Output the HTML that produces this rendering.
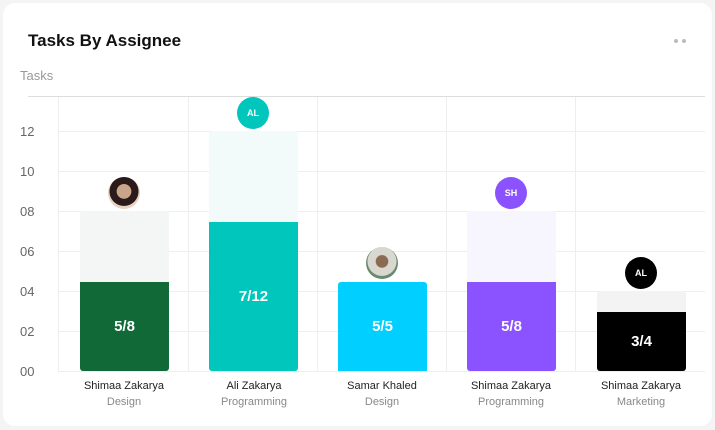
<!DOCTYPE html><html><head><style>
body{margin:0;width:715px;height:430px;background:#f4f4f4;font-family:"Liberation Sans",sans-serif;position:relative;overflow:hidden}
.card{position:absolute;left:3px;top:3px;width:709px;height:423px;background:#fff;border-radius:12px}
.t{position:absolute;white-space:nowrap}
.yl{position:absolute;left:20px;width:24px;font-size:13px;color:#666;text-align:left}
.bar{position:absolute;border-radius:3px 3px 0 0}
.dk{position:absolute;border-radius:0 0 3px 3px;color:#fff;font-weight:bold;font-size:15px;display:flex;align-items:center;justify-content:center}
.av{position:absolute;width:32px;height:32px;border-radius:50%;color:#fff;font-size:9px;font-weight:bold;display:flex;align-items:center;justify-content:center}
.nm{position:absolute;width:130px;text-align:center;font-size:11px;color:#222}
.dp{position:absolute;width:130px;text-align:center;font-size:11px;color:#888}
</style></head><body><div class="card"></div>
<div class="t" style="left:28px;top:31px;font-size:17px;font-weight:bold;color:#111">Tasks By Assignee</div>
<div class="t" style="left:20px;top:68px;font-size:13px;color:#999">Tasks</div>
<div style="position:absolute;left:674px;top:39px;width:4px;height:4px;border-radius:50%;background:#bbb"></div>
<div style="position:absolute;left:682px;top:39px;width:4px;height:4px;border-radius:50%;background:#bbb"></div>
<svg style="position:absolute;left:0;top:0" width="715" height="430">
<line x1="28" y1="96.5" x2="705" y2="96.5" stroke="#ddd"/>
<g stroke="#eee">
<line x1="58.5" y1="97" x2="58.5" y2="371"/><line x1="188.5" y1="97" x2="188.5" y2="371"/><line x1="317.5" y1="97" x2="317.5" y2="371"/><line x1="446.5" y1="97" x2="446.5" y2="371"/><line x1="575.5" y1="97" x2="575.5" y2="371"/>
<line x1="58" y1="131.5" x2="705" y2="131.5"/><line x1="58" y1="171.5" x2="705" y2="171.5"/><line x1="58" y1="211.5" x2="705" y2="211.5"/><line x1="58" y1="251.5" x2="705" y2="251.5"/><line x1="58" y1="291.5" x2="705" y2="291.5"/><line x1="58" y1="331.5" x2="705" y2="331.5"/><line x1="58" y1="371.5" x2="705" y2="371.5"/>
</g></svg>
<div class="yl" style="top:124px">12</div><div class="yl" style="top:164px">10</div><div class="yl" style="top:204px">08</div><div class="yl" style="top:244px">06</div><div class="yl" style="top:284px">04</div><div class="yl" style="top:324px">02</div><div class="yl" style="top:364px">00</div>

<div class="bar" style="left:80px;top:211px;width:89px;height:71px;background:#f3f6f5"></div>
<div class="dk" style="left:80px;top:282px;width:89px;height:89px;background:#116937">5/8</div>
<div class="bar" style="left:209px;top:131px;width:89px;height:91px;background:#f2fbfa"></div>
<div class="dk" style="left:209px;top:222px;width:89px;height:149px;background:#00c6bb">7/12</div>
<div class="dk" style="left:338px;top:282px;width:89px;height:89px;background:#00cfff;border-radius:3px 3px 0 0">5/5</div>
<div class="bar" style="left:467px;top:211px;width:89px;height:71px;background:#f7f6fe"></div>
<div class="dk" style="left:467px;top:282px;width:89px;height:89px;background:#8b53ff">5/8</div>
<div class="bar" style="left:597px;top:291px;width:89px;height:21px;background:#f3f3f3"></div>
<div class="dk" style="left:597px;top:312px;width:89px;height:59px;background:#000">3/4</div>

<div class="av" style="left:108px;top:177px;background:radial-gradient(circle at 50% 45%,#c9a58c 0 30%,#2a1a1a 32% 60%,#e8d4c4 62%)"></div>
<div class="av" style="left:237px;top:97px;background:#00c6bb">AL</div>
<div class="av" style="left:366px;top:247px;background:radial-gradient(circle at 50% 45%,#8a6a50 0 25%,#d8d8d0 28% 60%,#6a8a70 62%)"></div>
<div class="av" style="left:495px;top:177px;background:#8b53ff">SH</div>
<div class="av" style="left:625px;top:257px;background:#000">AL</div>

<div class="nm" style="left:59px;top:380px">Shimaa Zakarya</div><div class="dp" style="left:59px;top:396px">Design</div>
<div class="nm" style="left:189px;top:380px">Ali Zakarya</div><div class="dp" style="left:189px;top:396px">Programming</div>
<div class="nm" style="left:317px;top:380px">Samar Khaled</div><div class="dp" style="left:317px;top:396px">Design</div>
<div class="nm" style="left:446px;top:380px">Shimaa Zakarya</div><div class="dp" style="left:446px;top:396px">Programming</div>
<div class="nm" style="left:576px;top:380px">Shimaa Zakarya</div><div class="dp" style="left:576px;top:396px">Marketing</div>
</body></html>
